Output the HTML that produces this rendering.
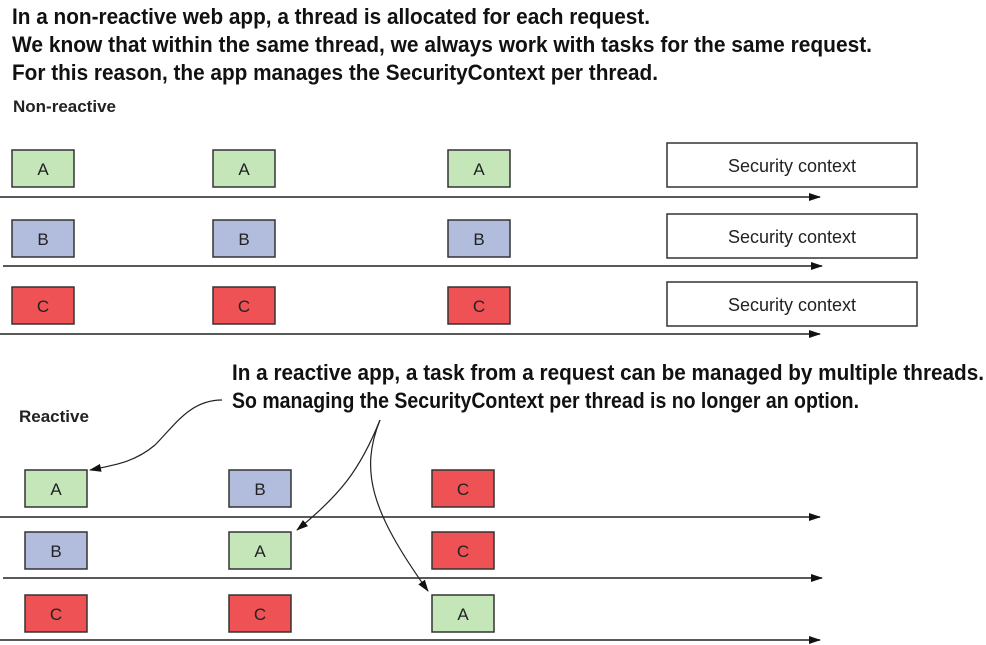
<!DOCTYPE html>
<html><head><style>body{margin:0;background:#fff}svg{display:block}</style></head><body>
<svg width="986" height="645" viewBox="0 0 986 645" xmlns="http://www.w3.org/2000/svg">
<defs><marker id="ah" markerWidth="12" markerHeight="8" refX="11" refY="4" orient="auto" markerUnits="userSpaceOnUse"><path d="M0,0 L12,4 L0,8 Z" fill="#111"/></marker></defs>
<g font-family="'Liberation Sans Narrow','Liberation Sans',sans-serif" font-weight="bold" font-size="22" fill="#111">
<text x="12" y="24" textLength="638" lengthAdjust="spacingAndGlyphs">In a non-reactive web app, a thread is allocated for each request.</text>
<text x="12" y="52" textLength="860" lengthAdjust="spacingAndGlyphs">We know that within the same thread, we always work with tasks for the same request.</text>
<text x="12" y="80" textLength="646" lengthAdjust="spacingAndGlyphs">For this reason, the app manages the SecurityContext per thread.</text>
<text x="232" y="380" textLength="752" lengthAdjust="spacingAndGlyphs">In a reactive app, a task from a request can be managed by multiple threads.</text>
<text x="232" y="408" textLength="627" lengthAdjust="spacingAndGlyphs">So managing the SecurityContext per thread is no longer an option.</text>
</g>
<g font-family="'Liberation Sans',sans-serif" font-weight="bold" font-size="17" fill="#222">
<text x="13" y="112">Non-reactive</text>
<text x="19" y="422">Reactive</text>
</g>
<g stroke="#222" stroke-width="1.5" fill="none" marker-end="url(#ah)">
<line x1="0" y1="197" x2="820" y2="197"/>
<line x1="3" y1="266" x2="822" y2="266"/>
<line x1="0" y1="334" x2="820" y2="334"/>
<line x1="0" y1="517" x2="820" y2="517"/>
<line x1="3" y1="578" x2="822" y2="578"/>
<line x1="0" y1="640" x2="820" y2="640"/>
</g>
<g stroke="#333" stroke-width="1.5" font-family="'Liberation Sans',sans-serif" font-size="17" text-anchor="middle">
<g fill="#c4e6b8"><rect x="12" y="150" width="62" height="37"/><rect x="213" y="150" width="62" height="37"/><rect x="448" y="150" width="62" height="37"/>
<rect x="25" y="470" width="62" height="37"/><rect x="229" y="532" width="62" height="37"/><rect x="432" y="595" width="62" height="37"/></g>
<g fill="#b2bcdc"><rect x="12" y="220" width="62" height="37"/><rect x="213" y="220" width="62" height="37"/><rect x="448" y="220" width="62" height="37"/>
<rect x="229" y="470" width="62" height="37"/><rect x="25" y="532" width="62" height="37"/></g>
<g fill="#ef5254"><rect x="12" y="287" width="62" height="37"/><rect x="213" y="287" width="62" height="37"/><rect x="448" y="287" width="62" height="37"/>
<rect x="432" y="470" width="62" height="37"/><rect x="432" y="532" width="62" height="37"/><rect x="25" y="595" width="62" height="37"/><rect x="229" y="595" width="62" height="37"/></g>
<g fill="#fff"><rect x="667" y="143" width="250" height="44"/><rect x="667" y="214" width="250" height="44"/><rect x="667" y="282" width="250" height="44"/></g>
<g fill="#222" stroke="none">
<text x="43" y="175">A</text><text x="244" y="175">A</text><text x="479" y="175">A</text>
<text x="43" y="245">B</text><text x="244" y="245">B</text><text x="479" y="245">B</text>
<text x="43" y="312">C</text><text x="244" y="312">C</text><text x="479" y="312">C</text>
<g font-size="18"><text x="792" y="172">Security context</text><text x="792" y="243">Security context</text><text x="792" y="311">Security context</text></g>
<text x="56" y="495">A</text><text x="260" y="495">B</text><text x="463" y="495">C</text>
<text x="56" y="557">B</text><text x="260" y="557">A</text><text x="463" y="557">C</text>
<text x="56" y="620">C</text><text x="260" y="620">C</text><text x="463" y="620">A</text>
</g></g>
<g stroke="#222" stroke-width="1.2" fill="none" marker-end="url(#ah)">
<path d="M222,400 C190,400 175,425 155,445 C135,462 115,465 90,470"/>
<path d="M380,420 C360,470 340,495 297,530"/>
<path d="M380,420 C360,470 370,510 428,591"/>
</g>
</svg>
</body></html>
